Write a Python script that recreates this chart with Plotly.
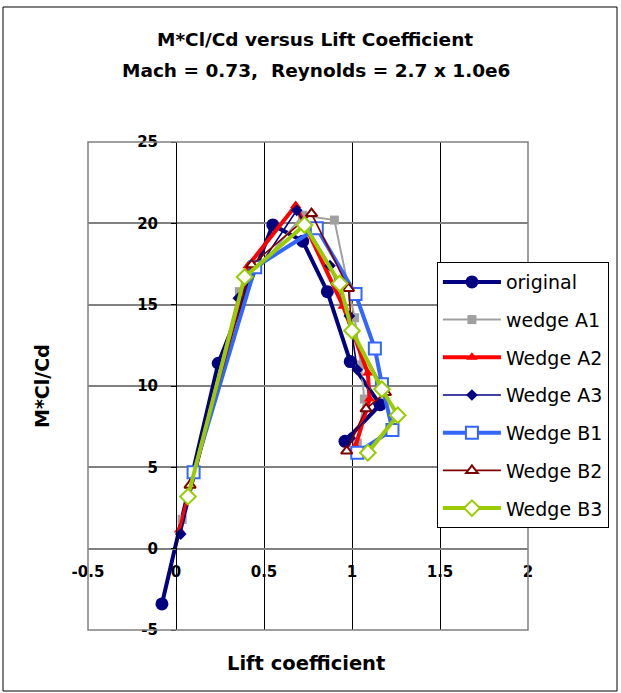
import plotly.graph_objects as go

# ---- data ----
cl_original = [-0.08, 0.24, 0.55, 0.72, 0.86, 0.99, 1.16, 0.96]
ld_original = [-3.4, 11.4, 19.9, 18.9, 15.8, 11.5, 8.85, 6.6]

cl_A1 = [0.035, 0.36, 0.72, 0.90, 1.015, 1.05, 1.07, 1.03]
ld_A1 = [1.8, 15.8, 20.5, 20.2, 14.2, 11.3, 9.2, 6.5]

cl_A2 = [0.02, 0.41, 0.68, 0.95, 1.09, 1.10, 1.02]
ld_A2 = [1.15, 17.4, 21.1, 14.9, 10.8, 9.2, 6.3]

cl_A3 = [0.027, 0.354, 0.686, 0.875, 0.985, 1.03, 1.15, 0.99]
ld_A3 = [0.9, 15.4, 20.8, 17.4, 14.3, 11.0, 8.9, 6.8]

cl_B1 = [0.10, 0.45, 0.80, 1.02, 1.13, 1.17, 1.23, 1.03]
ld_B1 = [4.7, 17.3, 19.7, 15.65, 12.3, 10.1, 7.3, 5.9]

cl_B2 = [0.08, 0.43, 0.77, 0.98, 1.00, 1.19, 1.08, 0.97]
ld_B2 = [3.9, 17.45, 20.6, 16.0, 13.4, 9.6, 8.6, 6.0]

cl_B3 = [0.068, 0.39, 0.73, 0.93, 1.00, 1.17, 1.26, 1.09]
ld_B3 = [3.2, 16.7, 19.9, 16.3, 13.4, 9.8, 8.2, 5.9]

x_ticks = [-0.5, 0, 0.5, 1, 1.5, 2]
x_ticktext = ["-0.5", "0", "0.5", "1", "1.5", "2"]
y_ticks = [-5, 0, 5, 10, 15, 20, 25]
y_ticktext = ["-5", "0", "5", "10", "15", "20", "25"]

series = [
    ("original", cl_original, ld_original, "#000080", 4, "circle", 13, "#000080", 0),
    ("wedge A1", cl_A1, ld_A1, "#A0A0A0", 2, "square", 9, "#A0A0A0", 0),
    ("Wedge A2", cl_A2, ld_A2, "#FF0000", 4, "triangle-up", 10, "#FF0000", 0),
    ("Wedge A3", cl_A3, ld_A3, "#000080", 1.6, "diamond", 9, "#000080", 0),
    ("Wedge B1", cl_B1, ld_B1, "#3366FF", 4, "square", 12, "white", 2),
    ("Wedge B2", cl_B2, ld_B2, "#800000", 1.6, "triangle-up", 10, "white", 2),
    ("Wedge B3", cl_B3, ld_B3, "#99CC00", 4, "diamond", 12, "white", 2),
]

FONT = "DejaVu Sans"

fig = go.Figure()
for i, (name, xs, ys, col, lw, sym, ms, fill, mlw) in enumerate(series):
    fig.add_trace(go.Scatter(
        x=xs, y=ys, name=name, mode="lines+markers",
        legendgroup=f"g{i}",
        line=dict(color=col, width=lw),
        marker=dict(symbol=sym, size=ms, color=fill,
                    line=dict(color=col, width=mlw)),
    ))

fig.update_layout(
    width=621, height=693,
    margin=dict(l=88, r=93, t=142, b=63),
    paper_bgcolor="white", plot_bgcolor="white",
    font=dict(family=FONT, color="black"),
    showlegend=True,
    legend=dict(
        x=0.793, y=0.754, xanchor="left", yanchor="top",
        bgcolor="white", bordercolor="black", borderwidth=1,
        font=dict(family=FONT, size=19, color="black"),
        traceorder="grouped", tracegroupgap=10, itemwidth=58,
    ),
    xaxis=dict(
        range=[-0.5, 2], tickvals=x_ticks, ticktext=x_ticktext,
        showgrid=True, gridcolor="black", gridwidth=1,
        zeroline=False, showline=True, linecolor="#808080", linewidth=1.5,
        anchor="free", position=1/6, ticks="",
        ticklabelstandoff=10,
        tickfont=dict(family=FONT, size=15, color="black", weight="bold"),
    ),
    yaxis=dict(
        range=[-5, 25], tickvals=y_ticks, ticktext=y_ticktext,
        showgrid=True, gridcolor="#808080", gridwidth=1.5,
        zeroline=False, showline=True, linecolor="black", linewidth=1,
        anchor="free", position=0.2, ticks="outside", ticklen=5,
        tickcolor="black", ticklabelstandoff=10,
        tickfont=dict(family=FONT, size=15, color="black", weight="bold"),
    ),
)

# plot-area border
fig.add_shape(type="rect", xref="paper", yref="paper", x0=0, y0=0, x1=1, y1=1,
              line=dict(color="#808080", width=1.5), layer="above")
# chart-area border
fig.add_shape(type="rect", xref="paper", yref="paper",
              x0=(3 - 88) / 440, x1=(617 - 88) / 440,
              y0=(630 - 691) / 488, y1=(630 - 7) / 488,
              line=dict(color="black", width=1))

# titles
fig.add_annotation(text="<b>M*Cl/Cd versus Lift Coefficient</b>", xref="paper", yref="paper",
                   x=(315 - 88) / 440, y=(630 - 40) / 488, showarrow=False,
                   font=dict(family=FONT, size=18.5), xanchor="center", yanchor="middle")
fig.add_annotation(text="<b>Mach = 0.73,  Reynolds = 2.7 x 1.0e6</b>", xref="paper", yref="paper",
                   x=(316 - 88) / 440, y=(630 - 70) / 488, showarrow=False,
                   font=dict(family=FONT, size=18.5), xanchor="center", yanchor="middle")
fig.add_annotation(text="<b>Lift coefficient</b>", xref="paper", yref="paper",
                   x=(306 - 88) / 440, y=(630 - 663) / 488, showarrow=False,
                   font=dict(family=FONT, size=19.5), xanchor="center", yanchor="middle")
fig.add_annotation(text="<b>M*Cl/Cd</b>", xref="paper", yref="paper",
                   x=(42 - 88) / 440, y=(630 - 386) / 488, showarrow=False, textangle=-90,
                   font=dict(family=FONT, size=19), xanchor="center", yanchor="middle")

fig.write_html("out.html")
